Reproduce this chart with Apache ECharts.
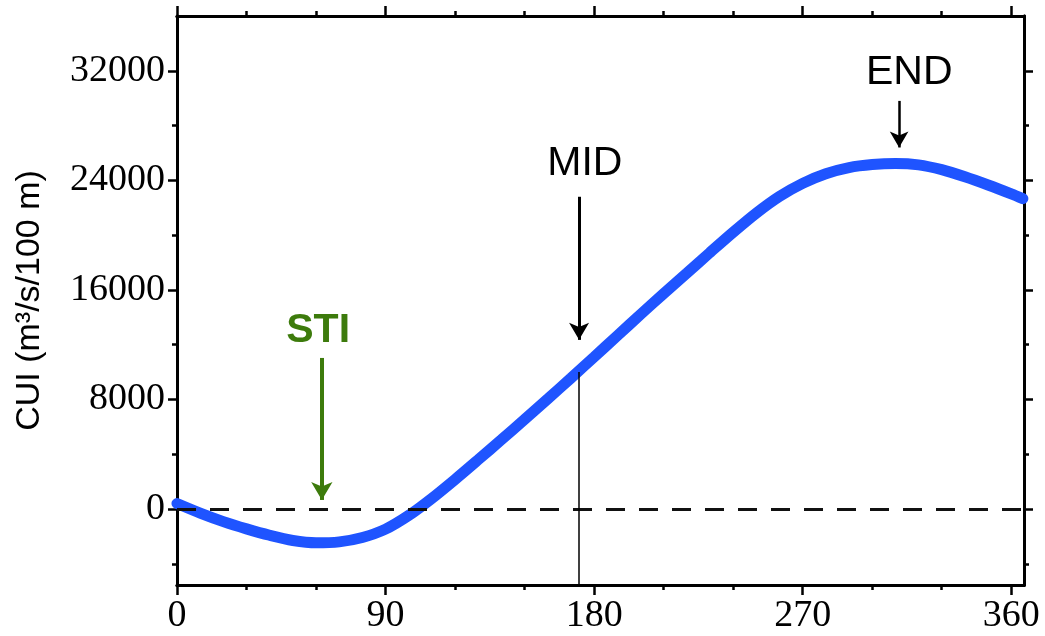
<!DOCTYPE html>
<html>
<head>
<meta charset="utf-8">
<script src="https://cdn.jsdelivr.net/npm/echarts@6/dist/echarts.min.js"></script>
<style>
  html, body { margin: 0; padding: 0; background: #fff; }
  #main { width: 1045px; height: 636px; }
</style>
</head>
<body>
<div id="main"></div>
<script>
// day of year and cumulative upwelling index
const days = [0, 10, 20, 30, 40, 50, 60, 70, 80, 90, 100, 110, 120, 130, 140, 150, 160, 170, 180,
    190, 200, 210, 220, 230, 240, 250, 260, 270, 280, 290, 300, 310, 320, 330, 340, 350, 360, 365];
const cui = [400, -300, -920, -1450, -1920, -2300, -2470, -2400, -2080, -1470, -470, 780, 2160, 3600, 5060, 6540, 8040, 9560, 11100,
    12650, 14200, 15730, 17230, 18730, 20210, 21610, 22830, 23780, 24480, 24930, 25150, 25230, 25130, 24780, 24260, 23660, 23010, 22660];

// axis ticks
const xMajor = [0, 90, 180, 270, 360];
const xMinor = [30, 60, 120, 150, 210, 240, 300, 330];
const yMajor = [0, 8000, 16000, 24000, 32000];
const yMinor = [-4000, 4000, 12000, 20000, 28000];

// marked days
const stiDay = 62.5;
const midDay = 173.5;
const midValue = 10000;
const endDay = 311.6;

const X_MIN = 0, X_MAX = 365.5, Y_MIN = -5550, Y_MAX = 36000;

let chart = echarts.init(document.getElementById('main'));

const lineStyle = {color: '#000', width: 3};

function xAxisDef(pos, ticks, len, labels) {
    return {
        type: 'value', position: pos, min: X_MIN, max: X_MAX,
        axisLine: {show: true, onZero: false, lineStyle: lineStyle},
        axisTick: {show: true, inside: false, length: len, customValues: ticks, lineStyle: {color: '#000', width: 2.5}},
        axisLabel: labels ? {
            show: true, customValues: ticks, margin: 12,
            formatter: v => String(v),
            fontFamily: 'Liberation Serif', fontSize: 38, color: '#000'
        } : {show: false},
        splitLine: {show: false}
    };
}

function yAxisDef(pos, ticks, len, labels) {
    let ax = {
        type: 'value', position: pos, min: Y_MIN, max: Y_MAX,
        axisLine: {show: true, onZero: false, lineStyle: lineStyle},
        axisTick: {show: true, inside: false, length: len, customValues: ticks, lineStyle: {color: '#000', width: 2.5}},
        axisLabel: labels ? {
            show: true, customValues: ticks, margin: 12,
            formatter: v => String(v),
            fontFamily: 'Liberation Serif', fontSize: 38, color: '#000'
        } : {show: false},
        splitLine: {show: false}
    };
    if (labels) {
        ax.name = 'CUI (m³/s/100 m)';
        ax.nameLocation = 'middle';
        ax.nameRotate = 90;
        ax.nameGap = 130;
        ax.nameTextStyle = {fontFamily: 'Liberation Sans', fontSize: 34, color: '#000'};
    }
    return ax;
}

const textLabel = (txt, color, bold) => ({
    show: true, formatter: txt, position: 'inside',
    fontFamily: 'Liberation Sans', fontSize: 41,
    fontWeight: bold ? 'bold' : 'normal', color: color
});

chart.setOption({
    animation: false,
    backgroundColor: '#fff',
    grid: {left: 177, right: 21, top: 16, bottom: 51},
    xAxis: [
        xAxisDef('bottom', xMajor, 10, true),
        xAxisDef('bottom', xMinor, 5, false),
        xAxisDef('top', xMajor, 10, false),
        xAxisDef('top', xMinor, 5, false)
    ],
    yAxis: [
        yAxisDef('left', yMajor, 9, true),
        yAxisDef('left', yMinor, 5, false),
        yAxisDef('right', yMajor, 9, false),
        yAxisDef('right', yMinor, 5, false)
    ],
    series: [
        {
            name: 'CUI',
            type: 'line',
            xAxisIndex: 0, yAxisIndex: 0,
            smooth: 0.3,
            showSymbol: false,
            data: days.map((d, i) => [d, cui[i]]),
            lineStyle: {color: '#1f54ff', width: 11, cap: 'round'},
            z: 2
        },
        {
            name: 'marks',
            type: 'line',
            xAxisIndex: 0, yAxisIndex: 0,
            data: [],
            z: 5,
            markLine: {
                silent: true,
                animation: false,
                label: {show: false},
                data: [
                    // zero line
                    [{coord: [X_MIN, 0], symbol: 'none', lineStyle: {color: '#111', width: 3, type: [19, 14]}},
                     {coord: [X_MAX, 0], symbol: 'none'}],
                    // MID drop line
                    [{coord: [midDay, midValue], symbol: 'none', lineStyle: {color: '#000', width: 1.5, type: 'solid'}},
                     {coord: [midDay, Y_MIN], symbol: 'none'}],
                    // STI arrow
                    [{coord: [stiDay, 11030], symbol: 'none', lineStyle: {color: '#3d7b0c', width: 4, type: 'solid'}},
                     {coord: [stiDay, 660], symbol: 'arrow', symbolSize: [16, 18]}],
                    // MID arrow
                    [{coord: [midDay, 22800], symbol: 'none', lineStyle: {color: '#000', width: 3, type: 'solid'}},
                     {coord: [midDay, 12350], symbol: 'arrow', symbolSize: [15, 17]}],
                    // END arrow
                    [{coord: [endDay, 29800], symbol: 'none', lineStyle: {color: '#000', width: 2.5, type: 'solid'}},
                     {coord: [endDay, 26400], symbol: 'arrow', symbolSize: [14, 16]}]
                ]
            },
            markPoint: {
                silent: true,
                symbol: 'circle',
                symbolSize: 1,
                itemStyle: {color: 'rgba(0,0,0,0)'},
                data: [
                    {coord: [60.9, 13000], label: textLabel('STI', '#3d7b0c', true)},
                    {coord: [176, 25250], label: textLabel('MID', '#000', false)},
                    {coord: [316, 31850], label: textLabel('END', '#000', false)}
                ]
            }
        }
    ]
});
</script>
</body>
</html>
